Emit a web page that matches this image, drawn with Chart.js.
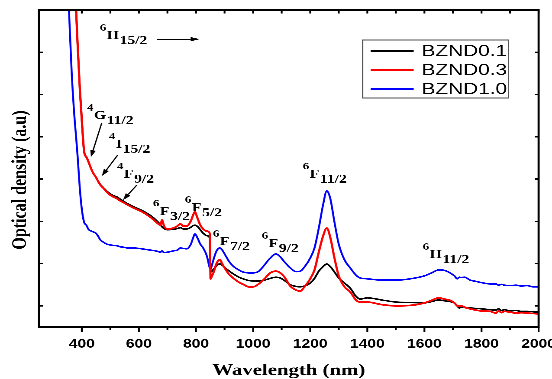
<!DOCTYPE html>
<html lang="en">
<head>
<meta charset="UTF-8">
<title>Optical density spectra</title>
<script src="https://cdn.jsdelivr.net/npm/chart.js"></script>
<style>
  html, body { margin: 0; padding: 0; background: #fff; overflow: hidden; }
  /* the source figure is stretched sideways, so the chart is drawn narrow and widened */
  #wrap { width: 425px; height: 379px; transform: scaleX(1.2988); transform-origin: 0 0; }
</style>
</head>
<body>
<div id="wrap"><canvas id="odChart" width="425" height="379"></canvas></div>
<script>
// wavelength (nm) sampling points
const wavelengths = [
  350, 355, 365, 375, 380, 385, 393, 400, 408, 416,
  421, 425, 433, 440, 449, 457, 465, 475, 488, 500,
  510, 525, 533, 545, 560, 580, 600, 610, 640, 666,
  675, 681, 688, 700, 720, 735, 745, 755, 768, 782,
  790, 796, 805, 815, 825, 838, 848, 851, 856, 862,
  870, 877, 884, 892, 900, 915, 930, 950, 965, 985,
  1000, 1020, 1040, 1060, 1080, 1095, 1110, 1130, 1150, 1165,
  1180, 1200, 1215, 1230, 1245, 1258, 1270, 1285, 1300, 1320,
  1340, 1360, 1375, 1400, 1450, 1500, 1550, 1600, 1625, 1650,
  1670, 1690, 1705, 1715, 1722, 1730, 1740, 1760, 1780, 1800,
  1830, 1850, 1860, 1870, 1880, 1900, 1920, 1940, 1960, 1980,
  2000
];

const bznd01 = [
  null, null, null, 0.82, 0.75, 0.674, 0.565, 0.49, 0.416, 0.402,
  0.395, 0.388, 0.374, 0.364, 0.355, 0.345, 0.337, 0.330, 0.321, 0.315,
  0.311, 0.307, 0.303, 0.298, 0.292, 0.285, 0.279, 0.276, 0.264, 0.249,
  0.242, 0.237, 0.233, 0.230, 0.231, 0.233, 0.235, 0.232, 0.232, 0.236,
  0.240, 0.241, 0.238, 0.230, 0.222, 0.216, 0.211, 0.130, 0.132, 0.137,
  0.143, 0.148, 0.149, 0.146, 0.141, 0.133, 0.126, 0.118, 0.114, 0.110,
  0.109, 0.109, 0.111, 0.115, 0.118, 0.116, 0.110, 0.100, 0.096, 0.095,
  0.097, 0.104, 0.115, 0.132, 0.143, 0.149, 0.143, 0.130, 0.116, 0.104,
  0.092, 0.073, 0.066, 0.069, 0.064, 0.059, 0.058, 0.057, 0.060, 0.064,
  0.062, 0.060, 0.057, 0.050, 0.045, 0.047, 0.046, 0.045, 0.044, 0.043,
  0.041, 0.040, 0.043, 0.039, 0.041, 0.038, 0.039, 0.037, 0.037, 0.036,
  0.035
];

const bznd03 = [
  null, null, null, 0.82, 0.75, 0.674, 0.565, 0.49, 0.416, 0.402,
  0.395, 0.388, 0.374, 0.364, 0.355, 0.345, 0.336, 0.329, 0.319, 0.312,
  0.308, 0.303, 0.299, 0.295, 0.289, 0.282, 0.276, 0.273, 0.260, 0.245,
  0.241, 0.253, 0.239, 0.232, 0.234, 0.239, 0.244, 0.239, 0.239, 0.251,
  0.265, 0.272, 0.258, 0.241, 0.232, 0.227, 0.222, 0.114, 0.121, 0.130,
  0.147, 0.156, 0.159, 0.149, 0.140, 0.125, 0.116, 0.106, 0.101, 0.095,
  0.095, 0.102, 0.114, 0.128, 0.132, 0.128, 0.118, 0.097, 0.0875, 0.085,
  0.095, 0.114, 0.135, 0.177, 0.215, 0.234, 0.213, 0.163, 0.121, 0.095,
  0.083, 0.064, 0.059, 0.059, 0.053, 0.050, 0.051, 0.057, 0.063, 0.069,
  0.066, 0.063, 0.057, 0.050, 0.049, 0.050, 0.047, 0.043, 0.040, 0.038,
  0.037, 0.033, 0.038, 0.034, 0.037, 0.035, 0.033, 0.034, 0.033, 0.032,
  0.031
];

const bznd10 = [
  0.82, 0.75, 0.596, 0.49, 0.45, 0.407, 0.329, 0.279, 0.248, 0.241,
  0.234, 0.230, 0.227, 0.225, 0.222, 0.215, 0.206, 0.201, 0.196, 0.194,
  0.193, 0.192, 0.190, 0.189, 0.187, 0.187, 0.186, 0.185, 0.182, 0.179,
  0.177, 0.180, 0.176, 0.177, 0.180, 0.182, 0.187, 0.186, 0.185, 0.196,
  0.211, 0.220, 0.211, 0.196, 0.187, 0.168, 0.140, 0.137, 0.147, 0.161,
  0.177, 0.185, 0.187, 0.182, 0.173, 0.156, 0.144, 0.135, 0.130, 0.128,
  0.128, 0.132, 0.147, 0.163, 0.173, 0.166, 0.154, 0.140, 0.131, 0.132,
  0.142, 0.163, 0.187, 0.234, 0.289, 0.322, 0.305, 0.248, 0.196, 0.159,
  0.140, 0.123, 0.116, 0.114, 0.111, 0.111, 0.114, 0.121, 0.128, 0.135,
  0.134, 0.128, 0.121, 0.114, 0.118, 0.117, 0.118, 0.111, 0.108, 0.105,
  0.102, 0.102, 0.099, 0.101, 0.099, 0.098, 0.099, 0.097, 0.098, 0.095,
  0.095
];

const seriesNames = ["BZND0.1", "BZND0.3", "BZND1.0"];
const seriesColors = ["#000000", "#ff0000", "#0000ff"];
const xTickLabels = [400, 600, 800, 1000, 1200, 1400, 1600, 1800, 2000];
const yTickValues = [0.05, 0.15, 0.25, 0.35, 0.45, 0.55, 0.65];

// energy level labels: anchor = wavelength / optical density of the main letter baseline
const levels = [
  { sup: "6", term: "H", sub: "15/2", nm: 463, od: 0.681 },
  { sup: "4", term: "G", sub: "11/2", nm: 418, od: 0.492 },
  { sup: "4", term: "I", sub: "15/2", nm: 495, od: 0.424 },
  { sup: "4", term: "F", sub: "9/2",  nm: 523, od: 0.353 },
  { sup: "6", term: "F", sub: "3/2",  nm: 649, od: 0.265 },
  { sup: "6", term: "F", sub: "5/2",  nm: 761, od: 0.274 },
  { sup: "6", term: "F", sub: "7/2",  nm: 859, od: 0.194 },
  { sup: "6", term: "F", sub: "9/2",  nm: 1030, od: 0.189 },
  { sup: "6", term: "F", sub: "11/2", nm: 1174, od: 0.353 },
  { sup: "6", term: "H", sub: "11/2", nm: 1594, od: 0.163 }
];
// arrows: [from nm, from od, to nm, to od]
const arrows = [
  [663, 0.681, 813, 0.681],
  [470, 0.483, 432, 0.402],
  [526, 0.407, 470, 0.357],
  [593, 0.336, 544, 0.300]
];

const serif = '"Liberation Serif", "Times New Roman", serif';
const sans = '"Liberation Sans", Arial, sans-serif';

function toPoints(values) {
  return wavelengths.map((w, i) => ({ x: w, y: values[i] }));
}

function drawArrow(ctx, x1, y1, x2, y2) {
  const ang = Math.atan2(y2 - y1, x2 - x1);
  const c = Math.cos(ang), s = Math.sin(ang);
  const len = 7, half = 2.2;
  ctx.beginPath();
  ctx.moveTo(x1, y1);
  ctx.lineTo(x2 - len * c, y2 - len * s);
  ctx.stroke();
  ctx.beginPath();
  ctx.moveTo(x2, y2);
  ctx.lineTo(x2 - len * c + half * s, y2 - len * s - half * c);
  ctx.lineTo(x2 - len * c - half * s, y2 - len * s + half * c);
  ctx.closePath();
  ctx.fill();
}

const decorations = {
  id: "decorations",
  afterDatasetsDraw(chart) {
    const { ctx, chartArea: a, scales: { x, y } } = chart;
    ctx.save();
    ctx.fillStyle = "#000";
    ctx.strokeStyle = "#000";
    ctx.textAlign = "left";
    ctx.textBaseline = "alphabetic";

    // level labels
    levels.forEach(lv => {
      const px = x.getPixelForValue(lv.nm);
      const py = y.getPixelForValue(lv.od);
      ctx.font = "bold 10px " + serif;
      ctx.fillText(lv.sup, px, py - 8.5);
      let w = ctx.measureText(lv.sup).width + 0.4;
      ctx.font = "bold 12px " + serif;
      ctx.fillText(lv.term, px + w, py);
      w += ctx.measureText(lv.term).width + 0.5;
      ctx.fillText(lv.sub, px + w, py + 5);
    });

    ctx.lineWidth = 1;
    arrows.forEach(ar => {
      drawArrow(ctx, x.getPixelForValue(ar[0]), y.getPixelForValue(ar[1]),
                x.getPixelForValue(ar[2]), y.getPixelForValue(ar[3]));
    });

    // legend box
    const bx = a.right - 135.5, by = a.top + 30, bw = 112.3, bh = 58;
    ctx.fillStyle = "#fff";
    ctx.fillRect(bx, by, bw, bh);
    ctx.strokeStyle = "#555";
    ctx.lineWidth = 1;
    ctx.strokeRect(bx, by, bw, bh);
    ctx.font = "16px " + sans;
    ctx.textBaseline = "middle";
    chart.data.datasets.forEach((ds, i) => {
      const ly = by + 11 + i * 19;
      ctx.strokeStyle = ds.borderColor;
      ctx.lineWidth = 1.5;
      ctx.beginPath();
      ctx.moveTo(bx + 6.2, ly);
      ctx.lineTo(bx + 39.3, ly);
      ctx.stroke();
      ctx.fillStyle = "#000";
      ctx.fillText(ds.label, bx + 45.4, ly + 0.5);
    });
    ctx.restore();
  },
  afterDraw(chart) {
    const { ctx, chartArea: a, scales: { x, y } } = chart;
    ctx.save();
    ctx.strokeStyle = "#000";
    ctx.lineWidth = 1.6;
    ctx.strokeRect(a.left, a.top, a.right - a.left, a.bottom - a.top);
    ctx.lineWidth = 1.4;
    ctx.beginPath();
    x.ticks.forEach(t => {
      if (t.value % 100 !== 0) return;
      const px = x.getPixelForValue(t.value);
      const len = t.value % 200 === 0 ? 5 : 3;
      ctx.moveTo(px, a.bottom);
      ctx.lineTo(px, a.bottom + len);
      ctx.moveTo(px, a.top);
      ctx.lineTo(px, a.top + 3.5);
    });
    y.ticks.forEach(t => {
      const py = y.getPixelForValue(t.value);
      ctx.moveTo(a.left, py);
      ctx.lineTo(a.left + 3, py);
      ctx.moveTo(a.right, py);
      ctx.lineTo(a.right - 3, py);
    });
    ctx.stroke();

    // y axis title
    ctx.translate(16, 180);
    ctx.rotate(-Math.PI / 2);
    ctx.font = "bold 16px " + serif;
    ctx.fillStyle = "#000";
    ctx.textAlign = "center";
    ctx.textBaseline = "middle";
    ctx.fillText("Optical density (a.u)", 0, 0);
    ctx.restore();
  }
};

const seriesValues = [bznd01, bznd03, bznd10];
const drawOrder = [1, 0, 2]; // red is drawn over black

new Chart(document.getElementById("odChart"), {
  type: "line",
  data: {
    datasets: seriesNames.map((name, i) => ({
      label: name,
      data: toPoints(seriesValues[i]),
      borderColor: seriesColors[i],
      borderWidth: i === 1 ? 1.7 : 1.5,
      pointRadius: 0,
      cubicInterpolationMode: "monotone",
      order: drawOrder[i]
    }))
  },
  options: {
    responsive: false,
    animation: false,
    devicePixelRatio: 3,
    layout: { padding: { left: 0, right: 10.3, top: 10, bottom: 0 } },
    plugins: { legend: { display: false }, tooltip: { enabled: false } },
    scales: {
      x: {
        type: "linear",
        min: 250,
        max: 2000,
        grid: { display: false, drawTicks: false },
        border: { display: false },
        ticks: {
          stepSize: 100,
          autoSkip: false,
          maxRotation: 0,
          padding: 10,
          color: "#000",
          font: { family: sans, size: 12, weight: "bold" },
          callback: v => xTickLabels.includes(v) ? String(v) : ""
        },
        title: {
          display: true,
          text: "Wavelength (nm)",
          color: "#000",
          font: { family: serif, size: 16, weight: "bold", lineHeight: 1 },
          padding: { top: 0, bottom: 0 }
        },
        afterFit: s => { s.height = 52; s.paddingLeft = 0; s.paddingRight = 0; }
      },
      y: {
        min: 0,
        max: 0.75,
        grid: { display: false, drawTicks: false },
        border: { display: false },
        ticks: { display: false },
        afterBuildTicks: s => { s.ticks = yTickValues.map(v => ({ value: v })); },
        afterFit: s => { s.width = 30; }
      }
    }
  },
  plugins: [decorations]
});
</script>
</body>
</html>
